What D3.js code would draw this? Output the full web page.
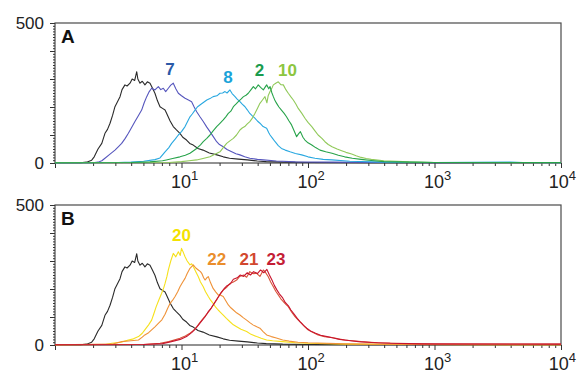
<!DOCTYPE html>
<html>
<head>
<meta charset="utf-8">
<script src="https://cdn.jsdelivr.net/npm/d3@7"></script>
<style>
  body { margin: 0; background: #fff; }
  svg { display: block; font-family: "Liberation Sans", Arial, sans-serif; }
</style>
</head>
<body>
<svg id="chart" width="577" height="375"></svg>
<script>
// each point: [log10 fluorescence, cell count]
const control = [[0,1],[0.1,2],[0.2,1],[0.25,3],[0.29,10],[0.31,22],[0.34,50],[0.37,70],[0.395,106],[0.415,120],[0.435,142],[0.455,170],[0.474,201],[0.49,215],[0.514,237],[0.53,262],[0.553,279],[0.57,275],[0.593,285],[0.61,300],[0.63,295],[0.646,326],[0.655,300],[0.672,285],[0.69,292],[0.711,279],[0.73,290],[0.751,285],[0.77,268],[0.79,249],[0.81,222],[0.83,201],[0.85,195],[0.87,189],[0.883,177],[0.91,150],[0.935,130],[0.96,118],[0.988,106],[1.01,92],[1.04,82],[1.065,70],[1.093,64],[1.13,52],[1.17,46],[1.22,36],[1.28,29],[1.33,22],[1.38,17],[1.45,14],[1.52,11],[1.6,7],[1.67,5],[1.8,3],[2.0,2],[2.5,1],[3,1],[4,1]];

const clone7 = [[0,1],[0.3,1],[0.34,3],[0.37,8],[0.395,17],[0.43,30],[0.474,46],[0.5,58],[0.527,70],[0.555,88],[0.58,106],[0.61,130],[0.632,148],[0.66,170],[0.685,189],[0.705,215],[0.725,237],[0.745,255],[0.764,267],[0.79,261],[0.817,273],[0.836,262],[0.856,267],[0.875,255],[0.896,267],[0.915,278],[0.935,285],[0.955,265],[0.975,249],[1.0,240],[1.028,231],[1.055,225],[1.08,219],[1.1,200],[1.12,183],[1.146,165],[1.172,148],[1.2,128],[1.225,112],[1.25,95],[1.278,76],[1.3,66],[1.33,58],[1.36,48],[1.397,40],[1.43,33],[1.462,29],[1.5,22],[1.54,17],[1.6,13],[1.647,11],[1.75,7],[1.9,4],[2.2,3],[2.6,2],[3,1],[4,1]];

const clone8 = [[0,1],[0.5,2],[0.6,3],[0.7,6],[0.79,12],[0.83,18],[0.87,40],[0.9,55],[0.922,70],[0.95,85],[0.975,100],[1.0,112],[1.028,130],[1.05,150],[1.067,165],[1.085,175],[1.107,189],[1.125,200],[1.146,207],[1.17,215],[1.2,225],[1.225,230],[1.25,237],[1.28,240],[1.304,249],[1.325,250],[1.344,255],[1.36,250],[1.383,261],[1.4,248],[1.423,237],[1.44,228],[1.462,219],[1.48,210],[1.502,201],[1.52,190],[1.54,177],[1.56,168],[1.58,160],[1.6,150],[1.62,142],[1.645,130],[1.673,124],[1.69,108],[1.7,100],[1.72,88],[1.74,76],[1.765,62],[1.79,52],[1.82,46],[1.858,40],[1.9,34],[1.95,29],[2.0,22],[2.055,17],[2.12,13],[2.19,11],[2.33,6],[2.6,3],[3,2],[3.6,3],[3.7,2],[4,1]];

const clone2 = [[0,1],[0.6,2],[0.75,4],[0.85,8],[0.88,11],[0.93,16],[0.988,22],[1.03,28],[1.067,35],[1.095,44],[1.12,52],[1.15,65],[1.172,76],[1.2,88],[1.225,100],[1.25,115],[1.278,130],[1.3,140],[1.33,154],[1.35,165],[1.37,177],[1.39,185],[1.41,201],[1.43,210],[1.449,219],[1.47,228],[1.49,237],[1.51,242],[1.528,249],[1.55,262],[1.568,273],[1.585,265],[1.607,279],[1.625,270],[1.647,261],[1.66,270],[1.673,279],[1.69,265],[1.7,273],[1.715,250],[1.726,237],[1.74,222],[1.752,213],[1.77,200],[1.79,189],[1.81,178],[1.83,165],[1.85,150],[1.87,136],[1.89,115],[1.91,94],[1.925,104],[1.94,112],[1.96,92],[1.976,82],[2.0,72],[2.03,64],[2.06,55],[2.095,46],[2.14,40],[2.19,35],[2.24,28],[2.29,22],[2.35,17],[2.42,13],[2.5,9],[2.6,5],[2.8,3],[3.0,2],[4,2]];

const clone10 = [[0,1],[0.9,2],[1.0,5],[1.06,8],[1.12,11],[1.17,16],[1.225,22],[1.26,30],[1.304,40],[1.33,55],[1.357,70],[1.385,80],[1.41,88],[1.435,100],[1.462,118],[1.48,125],[1.5,130],[1.52,140],[1.54,148],[1.56,160],[1.58,177],[1.6,195],[1.62,213],[1.64,225],[1.66,237],[1.675,215],[1.685,240],[1.7,255],[1.715,268],[1.726,279],[1.745,285],[1.765,290],[1.785,280],[1.805,279],[1.825,262],[1.844,249],[1.865,236],[1.884,225],[1.905,210],[1.923,195],[1.95,178],[1.976,160],[2.0,145],[2.03,130],[2.055,115],[2.08,100],[2.11,88],[2.134,76],[2.16,66],[2.19,58],[2.23,50],[2.266,44],[2.3,38],[2.345,32],[2.38,26],[2.42,20],[2.46,16],[2.5,13],[2.6,8],[2.7,6],[2.8,4],[3.0,2],[4,1]];

const clone20 = [[0,1],[0.4,2],[0.45,6],[0.52,10],[0.58,18],[0.62,22],[0.66,30],[0.69,42],[0.71,54],[0.74,72],[0.764,89],[0.78,110],[0.8,137],[0.82,160],[0.843,185],[0.86,205],[0.87,220],[0.885,245],[0.896,268],[0.915,300],[0.935,327],[0.955,315],[0.975,333],[0.99,320],[1.0,345],[1.015,330],[1.028,315],[1.045,300],[1.067,286],[1.08,290],[1.093,280],[1.113,262],[1.133,244],[1.15,225],[1.172,208],[1.19,190],[1.212,173],[1.23,160],[1.25,149],[1.27,135],[1.29,125],[1.31,116],[1.33,107],[1.355,95],[1.383,83],[1.41,72],[1.436,65],[1.47,56],[1.515,48],[1.55,38],[1.594,30],[1.63,24],[1.673,18],[1.72,15],[1.8,12],[1.9,8],[2.0,6],[2.3,3],[2.8,2],[4,1]];

const clone22 = [[0,1],[0.45,3],[0.527,12],[0.6,15],[0.66,18],[0.69,28],[0.71,36],[0.74,44],[0.764,54],[0.79,65],[0.817,77],[0.845,90],[0.87,110],[0.89,130],[0.91,149],[0.93,160],[0.949,173],[0.97,190],[0.988,208],[1.01,225],[1.028,238],[1.045,255],[1.067,274],[1.08,280],[1.093,286],[1.113,275],[1.133,268],[1.15,262],[1.16,256],[1.175,240],[1.186,232],[1.2,240],[1.212,244],[1.23,222],[1.25,202],[1.27,190],[1.29,179],[1.31,178],[1.33,173],[1.35,158],[1.37,143],[1.39,133],[1.41,125],[1.435,115],[1.462,107],[1.49,97],[1.515,89],[1.54,80],[1.568,71],[1.595,65],[1.62,60],[1.645,48],[1.673,36],[1.71,30],[1.75,25],[1.8,18],[1.85,14],[1.92,10],[2.0,8],[2.3,4],[2.8,2],[4,1]];

const clone21 = [[0,1],[0.7,2],[0.83,6],[0.9,12],[0.988,24],[1.03,32],[1.067,42],[1.095,52],[1.12,65],[1.145,80],[1.172,95],[1.2,110],[1.225,125],[1.25,142],[1.278,161],[1.3,178],[1.33,196],[1.355,205],[1.383,220],[1.41,225],[1.436,232],[1.46,245],[1.49,250],[1.515,242],[1.54,262],[1.565,255],[1.594,256],[1.62,245],[1.647,268],[1.66,262],[1.686,244],[1.705,225],[1.726,208],[1.745,192],[1.765,179],[1.785,165],[1.805,155],[1.825,145],[1.844,137],[1.87,118],[1.897,101],[1.925,88],[1.95,77],[1.975,65],[2.0,54],[2.04,45],[2.08,36],[2.13,30],[2.19,27],[2.24,22],[2.29,18],[2.35,15],[2.42,12],[2.55,8],[2.7,6],[3.0,3],[4,3]];

const clone23 = [[0,1],[0.7,2],[0.85,5],[0.92,12],[0.99,20],[1.04,30],[1.08,44],[1.11,58],[1.135,72],[1.16,86],[1.185,100],[1.21,118],[1.235,132],[1.26,150],[1.285,168],[1.31,185],[1.335,200],[1.36,212],[1.385,218],[1.41,235],[1.44,240],[1.465,250],[1.49,245],[1.52,258],[1.545,250],[1.57,262],[1.6,255],[1.625,268],[1.65,258],[1.675,270],[1.695,250],[1.715,232],[1.735,212],[1.755,196],[1.775,182],[1.8,168],[1.82,152],[1.845,140],[1.865,125],[1.89,110],[1.915,95],[1.94,82],[1.965,70],[1.99,60],[2.02,50],[2.06,42],[2.1,35],[2.15,30],[2.2,25],[2.25,20],[2.32,16],[2.4,12],[2.5,9],[2.65,6],[2.9,4],[4,3]];

const panelNames = ["A", "B"];
const yTickLabels = [0, 500];
const xDecades = [1, 2, 3, 4];

// label anchor: [log10 fluorescence, count]
const seriesA = [
  { name: "", data: control, line: "#2a2a2a" },
  { name: "7", data: clone7, line: "#5656bd", text: "#2b5aa8", at: [0.909, 314] },
  { name: "8", data: clone8, line: "#2aa8e0", text: "#1ba3d9", at: [1.368, 286] },
  { name: "10", data: clone10, line: "#91c95a", text: "#8cc63f", at: [1.838, 309] },
  { name: "2", data: clone2, line: "#27a34a", text: "#1a9c4e", at: [1.617, 309] }
];
const seriesB = [
  { name: "", data: control, line: "#2a2a2a" },
  { name: "20", data: clone20, line: "#f6e11c", text: "#f4e200", at: [1.0, 370] },
  { name: "22", data: clone22, line: "#ef9238", text: "#ea8e2c", at: [1.278, 286] },
  { name: "21", data: clone21, line: "#d8553a", text: "#d2472e", at: [1.534, 286] },
  { name: "23", data: clone23, line: "#c8142e", text: "#c41d36", at: [1.747, 286] }
];
const panelSeries = [seriesA, seriesB];

const margin = { left: 55, right: 16 };
const panelTops = [23, 205];
const panelHeight = 140;
const width = 577;

const svg = d3.select("#chart");

const x = d3.scaleLog()
  .domain([1, 1e4])
  .range([margin.left, width - margin.right]);

const minorX = [];
for (let e = 0; e < 4; e++) {
  for (let m = 2; m <= 9; m++) minorX.push(m * 10 ** e);
}

panelNames.forEach((name, i) => {
  const top = panelTops[i];
  const y = d3.scaleLinear().domain([0, 500]).range([top + panelHeight, top]);
  const g = svg.append("g");

  // frame
  g.append("rect")
    .attr("x", x(1))
    .attr("y", y(500))
    .attr("width", x(1e4) - x(1))
    .attr("height", y(0) - y(500))
    .attr("fill", "none")
    .attr("stroke", "#4a4a4a")
    .attr("stroke-width", 1.2);

  // y minor ticks every 10, majors every 100
  g.append("g")
    .attr("transform", `translate(${x(1)},0)`)
    .call(d3.axisLeft(y).tickValues(d3.range(0, 501, 10)).tickSize(2).tickFormat(""))
    .call(a => a.select(".domain").remove());
  g.append("g")
    .attr("transform", `translate(${x(1)},0)`)
    .call(d3.axisLeft(y).tickValues(d3.range(0, 501, 100)).tickSize(5).tickFormat(""))
    .call(a => a.select(".domain").remove());
  g.selectAll(".tick line").attr("stroke", "#333");

  g.selectAll(".ylab")
    .data(yTickLabels)
    .enter().append("text")
    .attr("x", x(1) - 11)
    .attr("y", d => y(d))
    .attr("dy", "0.36em")
    .attr("text-anchor", "end")
    .style("font-size", "17px")
    .style("fill", "#222")
    .text(d => d);

  // x ticks
  const xa = g.append("g")
    .attr("transform", `translate(0,${y(0)})`);
  xa.append("g")
    .call(d3.axisBottom(x).tickValues(minorX).tickSize(3).tickFormat(""))
    .call(a => a.select(".domain").remove());
  xa.append("g")
    .call(d3.axisBottom(x).tickValues([1, 10, 100, 1000, 10000]).tickSize(5).tickFormat(""))
    .call(a => a.select(".domain").remove());
  xa.selectAll(".tick line").attr("stroke", "#333");

  // 10^n labels; the last one is pulled in so it stays on the page
  const xl = g.selectAll(".xlab")
    .data(xDecades)
    .enter().append("text")
    .attr("x", d => d === 4 ? width - 1 : x(10 ** d) - 10.5)
    .attr("text-anchor", d => d === 4 ? "end" : "start")
    .attr("y", y(0) + 25)
    .style("font-size", "18px")
    .style("fill", "#222");
  xl.append("tspan").text("10");
  xl.append("tspan")
    .attr("dy", -8)
    .style("font-size", "13px")
    .text(d => d);

  // curves
  const line = d3.line()
    .x(d => x(10 ** d[0]))
    .y(d => y(d[1]));

  g.selectAll(".curve")
    .data(panelSeries[i])
    .enter().append("path")
    .attr("d", d => line(d.data))
    .attr("fill", "none")
    .attr("stroke", d => d.line)
    .attr("stroke-width", 1.1)
    .attr("stroke-linejoin", "round");

  g.selectAll(".clab")
    .data(panelSeries[i].filter(d => d.name))
    .enter().append("text")
    .attr("x", d => x(10 ** d.at[0]))
    .attr("y", d => y(d.at[1]))
    .attr("text-anchor", "middle")
    .style("font-size", "17px")
    .style("font-weight", "bold")
    .style("fill", d => d.text)
    .text(d => d.name);

  g.append("text")
    .attr("x", x(1) + 6)
    .attr("y", top + 20)
    .style("font-size", "19px")
    .style("font-weight", "bold")
    .style("fill", "#111")
    .text(name);
});
</script>
</body>
</html>
